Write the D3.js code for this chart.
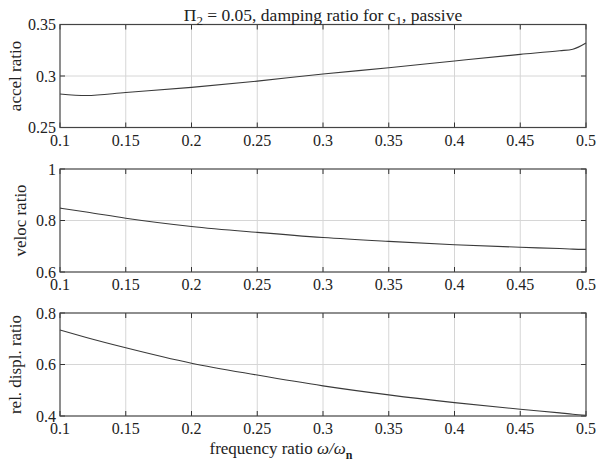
<!DOCTYPE html>
<html lang="en">
<head>
  <meta charset="UTF-8">
  <title>damping ratio for c1, passive</title>
  <script src="https://cdn.jsdelivr.net/npm/d3@7"></script>
  <style>
    html, body { margin: 0; padding: 0; background: #fff; }
    text { font-family: 'Liberation Serif', 'DejaVu Serif', serif; fill: #222; }
  </style>
</head>
<body>
  <svg id="chart" width="598" height="464"></svg>
  <script>
    // frequency ratio samples
    var freq = [0.10, 0.12, 0.15, 0.20, 0.25, 0.30, 0.35, 0.40, 0.45, 0.48, 0.49, 0.50]
    var accel = [0.2825, 0.281, 0.284, 0.289, 0.295, 0.302, 0.308, 0.3146, 0.321, 0.3245, 0.326, 0.332]
    var veloc = [0.848, 0.833, 0.809, 0.777, 0.754, 0.734, 0.719, 0.706, 0.696, 0.691, 0.689, 0.688]
    var displ = [0.734, 0.705, 0.665, 0.605, 0.559, 0.517, 0.482, 0.452, 0.426, 0.412, 0.407, 0.403]

    var xTicks = [0.1, 0.15, 0.2, 0.25, 0.3, 0.35, 0.4, 0.45, 0.5]
    var panels = [
      { label: 'accel ratio', values: accel, domain: [0.25, 0.35], ticks: [0.25, 0.3, 0.35], top: 24.5, labelX: 15 },
      { label: 'veloc ratio', values: veloc, domain: [0.6, 1], ticks: [0.6, 0.8, 1], top: 169, labelX: 20 },
      { label: 'rel. displ. ratio', values: displ, domain: [0.4, 0.8], ticks: [0.4, 0.6, 0.8], top: 313, labelX: 15 }
    ]

    var svg = d3.select('#chart')
    var left = 60, right = 586, ph = 103
    var fs = 16
    var x = d3.scaleLinear().domain([0.1, 0.5]).range([left, right])
    var fmt = function (d) { return String(+d.toFixed(2)) }

    panels.forEach(function (p) {
      var y = d3.scaleLinear().domain(p.domain).range([p.top + ph, p.top])
      var g = svg.append('g')

      // grid
      g.selectAll('.gx').data(xTicks.slice(1, -1)).enter().append('line')
        .attr('x1', x).attr('x2', x).attr('y1', p.top).attr('y2', p.top + ph)
        .attr('stroke', '#d6d6d6').attr('stroke-width', 1)
      g.selectAll('.gy').data(p.ticks.slice(1, -1)).enter().append('line')
        .attr('x1', left).attr('x2', right).attr('y1', y).attr('y2', y)
        .attr('stroke', '#d6d6d6').attr('stroke-width', 1)

      // inner tick marks on all four sides
      var tl = 5
      xTicks.forEach(function (t) {
        g.append('line').attr('x1', x(t)).attr('x2', x(t)).attr('y1', p.top + ph).attr('y2', p.top + ph - tl).attr('stroke', '#333')
        g.append('line').attr('x1', x(t)).attr('x2', x(t)).attr('y1', p.top).attr('y2', p.top + tl).attr('stroke', '#333')
      })
      p.ticks.forEach(function (t) {
        g.append('line').attr('x1', left).attr('x2', left + tl).attr('y1', y(t)).attr('y2', y(t)).attr('stroke', '#333')
        g.append('line').attr('x1', right).attr('x2', right - tl).attr('y1', y(t)).attr('y2', y(t)).attr('stroke', '#333')
      })

      // curve
      var line = d3.line()
        .x(function (d, i) { return x(freq[i]) })
        .y(function (d) { return y(d) })
        .curve(d3.curveMonotoneX)
      g.append('path').datum(p.values).attr('d', line)
        .attr('fill', 'none').attr('stroke', '#3a3a3a').attr('stroke-width', 1.1)

      // box
      g.append('rect').attr('x', left).attr('y', p.top).attr('width', right - left).attr('height', ph)
        .attr('fill', 'none').attr('stroke', '#444').attr('stroke-width', 1.2)

      // tick labels
      g.selectAll('.xl').data(xTicks).enter().append('text')
        .attr('x', x).attr('y', p.top + ph + 18)
        .attr('text-anchor', 'middle').attr('font-size', fs).text(fmt)
      g.selectAll('.yl').data(p.ticks).enter().append('text')
        .attr('x', left - 4).attr('y', y).attr('dy', '0.35em')
        .attr('text-anchor', 'end').attr('font-size', fs).text(fmt)

      // y label
      g.append('text')
        .attr('transform', 'translate(' + (p.labelX) + ',' + (p.top + ph / 2) + ') rotate(-90)')
        .attr('text-anchor', 'middle').attr('dy', '0.35em').attr('font-size', fs + 1).text(p.label)
    })

    // title
    var title = svg.append('text').attr('x', 323).attr('y', 21).attr('text-anchor', 'middle').attr('font-size', 17.5)
    title.append('tspan').text('\u03A0')
    title.append('tspan').attr('dy', 4).attr('font-size', 13).text('2')
    title.append('tspan').attr('dy', -4).text(' = 0.05, damping ratio for c')
    title.append('tspan').attr('dy', 4).attr('font-size', 13).text('1')
    title.append('tspan').attr('dy', -4).text(', passive')

    // x label
    var xl = svg.append('text').attr('x', 281).attr('y', 454).attr('text-anchor', 'middle').attr('font-size', 17)
    xl.append('tspan').text('frequency ratio ')
    xl.append('tspan').attr('font-style', 'italic').text('\u03C9/\u03C9')
    xl.append('tspan').attr('dy', 5).attr('font-size', 12).attr('font-weight', 'bold').text('n')
  </script>
</body>
</html>
